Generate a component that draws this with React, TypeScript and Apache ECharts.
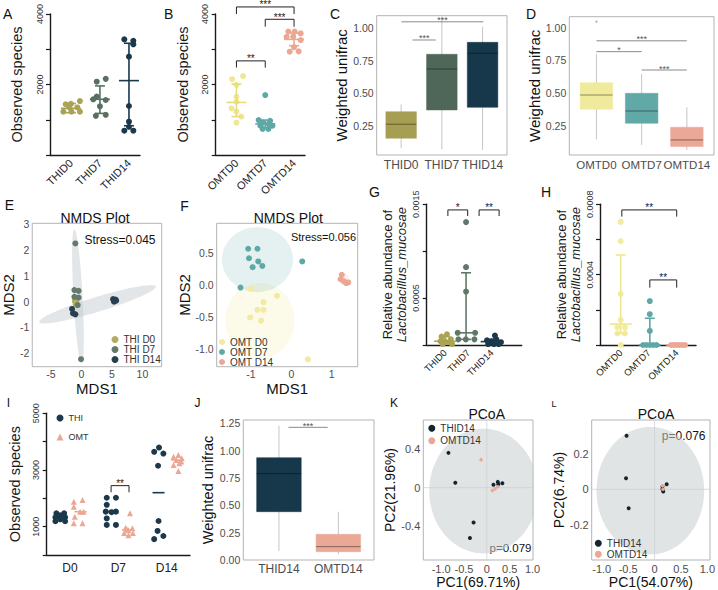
import React, { useEffect, useRef } from 'react';
import * as echarts from 'echarts';

const FONT = '"Liberation Sans", Arial, Helvetica, sans-serif';

const COL_THI0 = '#aba354';
const COL_THI7 = '#587062';
const COL_THI14 = '#1b394b';
const COL_OMT0 = '#efe795';
const COL_OMT7 = '#5ea8a6';
const COL_OMT14 = '#eba793';

// ---------- Panel A: observed species, THI
const catsA = ['THID0', 'THID7', 'THID14'];
const ptsA0 = [[-0.18, 1440], [0.0, 1450], [0.31, 1530], [-0.06, 1350], [0.22, 1350], [-0.26, 1230], [0.02, 1230], [0.31, 1230]];
const ptsA7 = [[0.89, 2080], [1.2, 2160], [0.89, 1660], [1.2, 1560], [0.77, 1580], [1.0, 1380], [0.86, 1110], [1.2, 1140]];
const ptsA14 = [[1.84, 3280], [2.15, 3240], [2.15, 3140], [2, 2790], [2, 1390], [2, 945], [2, 800], [1.84, 690], [2.15, 690]];
const statsA = [[0, 1325, 1200, 1460], [1, 1580, 1180, 1960], [2, 2110, 830, 3170]];
const yLabelsA: [number, string][] = [[2000, '2000'], [4000, '4000']];

// ---------- Panel B: observed species, OMT
const catsB = ['OMTD0', 'OMTD7', 'OMTD14'];
const ptsB0 = [[-0.15, 2150], [0.23, 2240], [0, 1990], [0, 1650], [0, 1510], [-0.17, 1320], [0, 1230], [0.17, 1090], [0, 920]];
const ptsB7 = [[1, 1700], [0.77, 990], [1.17, 970], [0.91, 920], [1.11, 880], [0.83, 830], [1.25, 830], [0.91, 740], [1.11, 740]];
const ptsB14 = [[1.8, 3500], [2.02, 3500], [2.23, 3450], [1.74, 3350], [1.97, 3360], [2.23, 3260], [2, 3060], [1.85, 2930], [2.16, 2940]];
const statsB = [[0, 1490, 1090, 2010], [1, 880, 770, 990], [2, 3280, 3100, 3460]];
const bracketsB = [
  { x1: 0, x2: 2, y: 4200, drop: 4000, label: '***' },
  { x1: 1, x2: 2, y: 3850, drop: 3640, label: '***' },
  { x1: 0, x2: 1, y: 2670, drop: 2480, label: '**' },
];

// ---------- Panel C: weighted unifrac, THI  [x, lo, q1, median, q3, hi]
const catsC = ['THID0', 'THID7', 'THID14'];
const boxC = [[1, 0.077, 0.154, 0.262, 0.358, 0.415], [2, 0.069, 0.372, 0.687, 0.80, 1.09], [3, 0.064, 0.392, 0.808, 0.892, 1.012]];
const sigC = [{ x1: 1.28, x2: 1.85, y: 0.91, label: '***' }, { x1: 1.01, x2: 3.02, y: 1.05, label: '***' }];

// ---------- Panel D: weighted unifrac, OMT
const catsD = ['OMTD0', 'OMTD7', 'OMTD14'];
const boxD = [[1, 0.148, 0.377, 0.486, 0.58, 0.80], [2, 0.105, 0.27, 0.364, 0.499, 0.647], [3, 0.066, 0.092, 0.143, 0.24, 0.392]];
const outD = [[1, 1.046]];
const sigD = [{ x1: 1, x2: 3, y: 0.90, label: '***' }, { x1: 1, x2: 2, y: 0.817, label: '*' }, { x1: 2, x2: 3, y: 0.677, label: '***' }];

// ---------- Panel E: NMDS THI
const ptsE0 = [[-0.98, -0.02], [-0.9, -0.1], [-1.05, 0.05], [-0.85, 0.02]];
const ptsE7 = [[-0.98, 2.26], [-1.14, 0.45], [-0.44, 0.42], [-1.14, 0.19], [-0.44, 0.16], [-0.6, -0.13], [-0.05, -2.23]];
const ptsE14 = [[5.2, 0.1], [5.4, 0.05], [5.6, 0.08], [5.35, 0.0], [5.7, 0.04], [-1.52, -0.28], [-1.36, -0.45], [-0.98, -0.49]];
const ellE = [[-0.55, 0.2, -0.6, 2.6, 0.75, 0], [2.65, -0.1, 9.55, 0.68, 0, 0.3]];

// ---------- Panel F: NMDS OMT
const ptsF0 = [[-1.0, -0.06], [-0.355, -0.17], [-0.69, -0.27], [-0.84, -0.39], [-0.69, -0.39], [-1.02, -0.51], [-0.75, -0.56], [0.41, -1.17]];
const ptsF7 = [[-1.07, 0.57], [-0.84, 0.57], [-1.05, 0.42], [-0.82, 0.37], [-0.96, 0.28], [-0.72, 0.3], [-1.26, -0.04], [0.27, 0.37]];
const ptsF14 = [[1.25, 0.16], [1.22, 0.09], [1.3, 0.06], [1.36, 0.03], [1.41, 0.04]];
const ellF = [[-0.78, -0.56, 0.86, 0, 0, 0.59], [-0.84, 0.4, 0.88, 0, 0, 0.51], [1.3, 0.09, 0.13, 0, 0, 0.09]];

// ---------- Panel G: L. mucosae, THI
const catsG = ['THID0', 'THID7', 'THID14'];
const ptsG0 = [[0.08, 0.000114], [-0.15, 0.000089], [0.25, 0.00006], [-0.2, 0.00004], [0.0, 0.00004], [0.2, 0.00003], [-0.1, 0.00001], [0.3, 0.00001]];
const ptsG7 = [[0.9, 0.00131], [0.9, 0.00083], [0.9, 0.00057], [0.54, 0.00013], [1.29, 0.00013], [0.57, 0.00006], [0.89, 0.00006], [1.26, 0.00006]];
const ptsG14 = [[2.14, 0.0001], [1.8, 0.00005], [2.0, 0.00004], [2.2, 0.00006], [2.4, 0.00003], [1.85, 0.00001], [2.1, 0.00001], [2.3, 0.00001]];
const statsG = [[0, 0.00004, 0.00001, 0.00009], [0.9, 0.00013, 0.00006, 0.00077], [2, 0.000036, 0.00001, 0.00006]];
const bracketsG = [
  { x1: 0.12, x2: 0.97, y: 0.00144, drop: 0.001375, label: '*' },
  { x1: 1.46, x2: 2.32, y: 0.00144, drop: 0.001375, label: '**' },
];
const yLabelsG: [number, string][] = [[0.0005, '0.0005'], [0.0015, '0.0015']];

// ---------- Panel H: L. mucosae, OMT
const catsH = ['OMTD0', 'OMTD7', 'OMTD14'];
const ptsH0 = [[0, 0.0007], [0, 0.00059], [0, 0.00029], [0, 0.000142], [-0.12, 0.0001], [0.15, 0.0001], [-0.12, 0.000066], [0.15, 0.000066], [0, 0]];
const ptsH7 = [[1.04, 0.00025], [1.04, 0.000175], [1.04, 0.00008], [0.8, 0], [0.92, 0], [1.04, 0], [1.16, 0], [1.28, 0]];
const ptsH14 = [[1.8, 0], [1.9, 0], [2.0, 0], [2.1, 0], [2.2, 0], [2.3, 0]];
const statsH = [[0, 0.000119, 0.000066, 0.000512], [1.04, 0, 0, 0.000152], [2, 0, 0, 0]];
const bracketsH = [
  { x1: 0.04, x2: 2.0, y: 0.000768, drop: 0.00073, label: '**' },
  { x1: 1.04, x2: 2.0, y: 0.00037, drop: 0.000326, label: '**' },
];
const yLabelsH: [number, string][] = [[0.0004, '0.0004'], [0.0008, '0.0008']];

// ---------- Panel I: observed species by day
const catsI = ['D0', 'D7', 'D14'];
const ptsI_THI_D0 = [[-0.28, 1470], [-0.12, 1470], [-0.2, 1400], [-0.3, 1330], [-0.1, 1330], [-0.2, 1260], [-0.3, 1190], [-0.1, 1190]];
const ptsI_OMT_D0 = [[0.08, 1880], [0.26, 1940], [0.08, 1706], [0.21, 1529], [0.28, 1529], [0.1, 1353], [0.08, 1118], [0.26, 1118]];
const ptsI_THI_D7 = [[0.76, 2020], [0.95, 2020], [0.76, 1770], [0.74, 1530], [0.86, 1510], [0.95, 1530], [0.76, 1290], [0.76, 1060], [0.95, 1060]];
const ptsI_OMT_D7 = [[1.24, 1470], [1.15, 960], [1.29, 940], [1.21, 870], [1.12, 780], [1.3, 780], [1.21, 700], [1.18, 900]];
const ptsI_THI_D14 = [[1.74, 3640], [1.84, 3790], [1.93, 3580], [1.82, 3150], [1.83, 1200], [1.81, 850], [1.93, 670], [1.74, 560]];
const ptsI_OMT_D14 = [[2.14, 3470], [2.24, 3530], [2.31, 3410], [2.2, 3350], [2.3, 3300], [2.14, 3180], [2.26, 3240], [2.24, 2960]];
const meansI = [[-0.22, 1294, 1294, 1294], [0.22, 1529, 1529, 1529], [0.81, 1529, 1529, 1529], [1.2, 882, 882, 882], [1.83, 2199, 2199, 2199], [2.22, 3350, 3350, 3350]];
const bracketsI = [{ x1: 0.85, x2: 1.22, y: 2447, drop: 2212, label: '**' }];
const yLabelsI: [number, string][] = [[1000, '1000'], [3000, '3000'], [5000, '5000']];

// ---------- Panel J: weighted unifrac D14
const catsJ = ['THID14', 'OMTD14'];
const boxJ = [[1, 0.082, 0.442, 0.79, 0.936, 1.229], [2, 0.052, 0.076, 0.122, 0.235, 0.442]];
const sigJ = [{ x1: 1.16, x2: 1.82, y: 1.214, label: '***' }];

// ---------- Panel K: PCoA
const ptsK_THI = [[-0.84, 0.36], [-0.69, 0.05], [-0.29, -0.36], [-0.37, -0.52], [0.145, 0.03], [0.24, 0.06], [0.34, 0.045], [0.25, 0.035]];
const ptsK_OMT = [[-0.125, 0.29], [0.12, -0.03], [0.18, -0.01], [0.24, 0.01]];
const ellK = [[-0.07, -0.035, 1.19, 0, 0, 0.645]];

// ---------- Panel L: PCoA
const ptsL_THI = [[-0.53, 0.30], [-0.54, 0.062], [-0.49, -0.107], [0.23, 0.028], [0.15, 0.015], [0.165, -0.013], [0.15, 0.0]];
const ptsL_OMT = [[0.15, 0.02], [0.16, 0.0]];
const ellL = [[-0.08, -0.008, 1.02, 0, 0, 0.358]];

// ================= helpers
const AX = '#1a1a1a';

function catFmt(cats: string[], base: number) {
  return (v: number) => {
    const k = Math.round(v);
    if (Math.abs(v - k) > 1e-6) return '';
    return cats[k - base] ?? '';
  };
}
function stepFmt(step: number, dec: number, zeroPlain: boolean) {
  return (v: number) => {
    const k = Math.round(v / step);
    if (Math.abs(v - k * step) > step * 1e-3) return '';
    if (zeroPlain && k === 0) return '0';
    return (k * step).toFixed(dec);
  };
}
function gpY(grid: number, min: number, max: number, interval: number, labels: [number, string][], name: string, nameGap: number, nameStyle: any) {
  return {
    type: 'value', gridIndex: grid, min, max, interval,
    axisLine: { show: true, onZero: false, lineStyle: { color: AX, width: 1.4 } },
    axisTick: { show: true, length: 4, lineStyle: { color: AX, width: 1.2 } },
    splitLine: { show: false },
    axisLabel: {
      rotate: 90, fontSize: 9, color: '#333', margin: 6,
      formatter: (v: number) => { const f = labels.find((l) => Math.abs(l[0] - v) < interval * 1e-3); return f ? f[1] : ''; },
    },
    name, nameLocation: 'middle', nameGap, nameRotate: 90, nameTextStyle: nameStyle,
  };
}
function gpX(grid: number, min: number, max: number, cats: string[], rotate: number, fontSize: number, margin: number) {
  return {
    type: 'value', gridIndex: grid, min, max, minInterval: 1, maxInterval: 1,
    axisLine: { show: true, onZero: false, lineStyle: { color: AX, width: 1.4 } },
    axisTick: { show: false },
    splitLine: { show: false },
    axisLabel: { rotate, fontSize, color: '#222', margin, formatter: catFmt(cats, 0) },
  };
}
function bxAxis(grid: number, min: number, max: number, step: number, fmt: any, fontSize: number, margin: number, name?: string, nameGap?: number, nameSize?: number, vertical?: boolean) {
  return {
    type: 'value', gridIndex: grid, min, max, minInterval: step, maxInterval: step,
    axisLine: { show: false, onZero: false },
    axisTick: { show: false },
    splitLine: { show: false },
    axisLabel: { fontSize, color: '#4d4d4d', margin, formatter: fmt },
    name: name || '', nameLocation: 'middle', nameGap: nameGap || 0, nameRotate: vertical ? 90 : 0,
    nameTextStyle: { fontSize: nameSize || 14, color: '#111' },
  };
}
function scatter(idx: number, name: string, data: number[][], color: string, size = 6, symbol = 'circle') {
  return { type: 'scatter', name, xAxisIndex: idx, yAxisIndex: idx, data, symbol, symbolSize: size, itemStyle: { color, opacity: 1 }, z: 3, silent: true };
}
function errSeries(idx: number, stats: number[][], colors: string[], meanW: number, capW: number, lw = 1.6) {
  return {
    type: 'custom', xAxisIndex: idx, yAxisIndex: idx, data: stats, z: 4, silent: true, clip: false,
    renderItem: (params: any, api: any) => {
      const x = api.value(0), m = api.value(1), lo = api.value(2), hi = api.value(3);
      const c = colors[params.dataIndex];
      const pm = api.coord([x, m]);
      const kids: any[] = [{ type: 'line', shape: { x1: pm[0] - meanW / 2, y1: pm[1], x2: pm[0] + meanW / 2, y2: pm[1] }, style: { stroke: c, lineWidth: lw } }];
      if (hi > lo) {
        const pl = api.coord([x, lo]), ph = api.coord([x, hi]);
        kids.push({ type: 'line', shape: { x1: pl[0], y1: pl[1], x2: ph[0], y2: ph[1] }, style: { stroke: c, lineWidth: lw } });
        kids.push({ type: 'line', shape: { x1: pl[0] - capW / 2, y1: pl[1], x2: pl[0] + capW / 2, y2: pl[1] }, style: { stroke: c, lineWidth: lw } });
        kids.push({ type: 'line', shape: { x1: ph[0] - capW / 2, y1: ph[1], x2: ph[0] + capW / 2, y2: ph[1] }, style: { stroke: c, lineWidth: lw } });
      }
      return { type: 'group', children: kids };
    },
  };
}
function sigSeries(idx: number, items: any[], color: string, fontSize: number, textColor: string, lw = 1) {
  return {
    type: 'custom', xAxisIndex: idx, yAxisIndex: idx, data: items.map((b) => [b.x1, b.y]), z: 5, silent: true, clip: false,
    renderItem: (params: any, api: any) => {
      const b = items[params.dataIndex];
      const p1 = api.coord([b.x1, b.y]), p2 = api.coord([b.x2, b.y]);
      const pts: number[][] = [p1, p2];
      if (b.drop !== undefined) { pts.unshift(api.coord([b.x1, b.drop])); pts.push(api.coord([b.x2, b.drop])); }
      return {
        type: 'group', children: [
          { type: 'polyline', shape: { points: pts }, style: { stroke: color, lineWidth: lw, fill: 'none' } },
          { type: 'text', x: (p1[0] + p2[0]) / 2, y: p1[1] + 3, style: { text: b.label, fill: textColor, fontSize, fontFamily: FONT, textAlign: 'center', textVerticalAlign: 'bottom' } },
        ],
      };
    },
  };
}
function boxSeries(idx: number, boxes: number[][], colors: string[], halfW: number) {
  return {
    type: 'custom', xAxisIndex: idx, yAxisIndex: idx, data: boxes, z: 2, silent: true, clip: false,
    renderItem: (params: any, api: any) => {
      const x = api.value(0);
      const lo = api.coord([x, api.value(1)]), q1 = api.coord([x, api.value(2)]), md = api.coord([x, api.value(3)]);
      const q3 = api.coord([x, api.value(4)]), hi = api.coord([x, api.value(5)]);
      const l = api.coord([x - halfW, api.value(3)])[0], r = api.coord([x + halfW, api.value(3)])[0];
      const c = colors[params.dataIndex];
      return {
        type: 'group', children: [
          { type: 'line', shape: { x1: lo[0], y1: lo[1], x2: hi[0], y2: hi[1] }, style: { stroke: '#c6c6c6', lineWidth: 1 } },
          { type: 'rect', shape: { x: l, y: q3[1], width: r - l, height: q1[1] - q3[1] }, style: { fill: c, stroke: c, lineWidth: 0.5 } },
          { type: 'line', shape: { x1: l, y1: md[1], x2: r, y2: md[1] }, style: { stroke: 'rgba(0,0,0,0.42)', lineWidth: 1 } },
        ],
      };
    },
  };
}
function ellSeries(idx: number, ells: number[][], colors: string[]) {
  return {
    type: 'custom', xAxisIndex: idx, yAxisIndex: idx, data: ells, z: 1, silent: true, clip: true,
    renderItem: (params: any, api: any) => {
      const v = [0, 1, 2, 3, 4, 5].map((i) => api.value(i));
      const pts: number[][] = [];
      for (let k = 0; k < 96; k++) {
        const t = (k / 96) * Math.PI * 2;
        pts.push(api.coord([v[0] + v[2] * Math.cos(t) + v[4] * Math.sin(t), v[1] + v[3] * Math.cos(t) + v[5] * Math.sin(t)]));
      }
      return { type: 'polygon', shape: { points: pts }, style: { fill: colors[params.dataIndex] } };
    },
  };
}
function zeroLines(idx: number) {
  return {
    type: 'custom', xAxisIndex: idx, yAxisIndex: idx, data: [[0, 0]], z: 0, silent: true,
    renderItem: (params: any, api: any) => {
      const cs = params.coordSys;
      const p = api.coord([0, 0]);
      return {
        type: 'group', children: [
          { type: 'line', shape: { x1: p[0], y1: cs.y, x2: p[0], y2: cs.y + cs.height }, style: { stroke: '#d4d4d4', lineWidth: 0.8 } },
          { type: 'line', shape: { x1: cs.x, y1: p[1], x2: cs.x + cs.width, y2: p[1] }, style: { stroke: '#d4d4d4', lineWidth: 0.8 } },
        ],
      };
    },
  };
}
function txt(text: string, x: number, y: number, fontSize: number, align = 'center', color = '#111') {
  return { type: 'text', x, y, silent: true, style: { text, fill: color, fontSize, fontFamily: FONT, textAlign: align, textVerticalAlign: 'middle' } };
}

function buildOption(): any {
  const boxed = { show: true, borderColor: '#b3b3b3', borderWidth: 1 };
  const grid = [
    { left: 50, top: 14, width: 90, height: 141 },
    { left: 215.7, top: 14, width: 89.3, height: 141 },
    { left: 376.7, top: 15.7, width: 130.3, height: 139.3, ...boxed },
    { left: 569.3, top: 16.7, width: 144.7, height: 138.3, ...boxed },
    { left: 31.7, top: 223.3, width: 130, height: 143.4, ...boxed },
    { left: 216.7, top: 223.3, width: 141, height: 143.4, ...boxed },
    { left: 426.7, top: 204.3, width: 95, height: 140.7 },
    { left: 600, top: 204.3, width: 96, height: 140.7 },
    { left: 46.7, top: 413.3, width: 143.3, height: 141.7 },
    { left: 243.3, top: 420, width: 130.7, height: 140, ...boxed },
    { left: 423.3, top: 420, width: 109.7, height: 140, ...boxed },
    { left: 591.7, top: 420, width: 122.3, height: 140, ...boxed },
  ];
  const nameObs = { fontSize: 14.5, color: '#1a1a1a' };
  const nameLacto = { fontSize: 13, color: '#1a1a1a', lineHeight: 14, rich: { i: { fontStyle: 'italic', fontSize: 13, lineHeight: 14, color: '#1a1a1a' } } };
  const lactoName = 'Relative abundance of\n{i|Lactobacillus_mucosae}';

  const xAxis = [
    gpX(0, -0.72, 2.38, catsA, 45, 11, 6),
    gpX(1, -0.72, 2.38, catsB, 45, 11, 6),
    bxAxis(2, 0.4, 3.6, 1, catFmt(catsC, 1), 12, 4),
    bxAxis(3, 0.4, 3.6, 1, catFmt(catsD, 1), 11.5, 4),
    bxAxis(4, -8.04, 13.16, 5, stepFmt(5, 0, true), 10.5, 2, 'MDS1', 13.5, 15),
    bxAxis(5, -1.85, 1.645, 1, stepFmt(1, 0, true), 10.5, 2, 'MDS1', 13.5, 15),
    gpX(6, -0.79, 3.29, catsG, 45, 9.5, 6),
    gpX(7, -0.74, 2.69, catsH, 45, 9.5, 6),
    gpX(8, -0.48, 2.48, catsI, 0, 12, 7),
    bxAxis(9, 0.4, 2.6, 1, catFmt(catsJ, 1), 12, 3),
    bxAxis(10, -1.39, 1.01, 0.5, stepFmt(0.5, 1, true), 11, 3, 'PC1(69.71%)', 14, 14),
    bxAxis(11, -1.19, 1.05, 0.5, stepFmt(0.5, 1, true), 11, 3, 'PC1(54.07%)', 14, 14),
  ];
  const yAxis = [
    gpY(0, 0, 4000, 1000, yLabelsA, 'Observed species', 26, nameObs),
    gpY(1, 0, 4000, 1000, yLabelsA, 'Observed species', 25, nameObs),
    bxAxis(2, 0.025, 1.097, 0.25, stepFmt(0.25, 2, false), 10.5, 3, 'Weighted unifrac', 23, 15, true),
    bxAxis(3, 0.028, 1.084, 0.25, stepFmt(0.25, 2, false), 10.5, 3, 'Weighted unifrac', 16, 15, true),
    bxAxis(4, -2.52, 3.04, 1, stepFmt(1, 0, true), 10.5, 3, 'MDS2', 12, 15, true),
    bxAxis(5, -1.285, 0.97, 0.5, stepFmt(0.5, 1, false), 10.5, 3, 'MDS2', 22, 15, true),
    gpY(6, 0, 0.0015, 0.0005, yLabelsG, lactoName, 18, nameLacto),
    gpY(7, 0, 0.0008, 0.0002, yLabelsH, lactoName, 18, nameLacto),
    gpY(8, 0, 5000, 1000, yLabelsI, 'Observed species', 24, nameObs),
    bxAxis(9, 0, 1.281, 0.25, stepFmt(0.25, 2, false), 10.5, 3, 'Weighted unifrac', 25, 14.5, true),
    bxAxis(10, -0.748, 0.70, 0.4, stepFmt(0.4, 1, true), 11, 3, 'PC2(21.96%)', 22, 14, true),
    bxAxis(11, -0.397, 0.389, 0.2, stepFmt(0.2, 1, true), 11, 3, 'PC2(6.74%)', 22, 14, true),
  ];

  const series: any[] = [
    // A
    scatter(0, 'a0', ptsA0, COL_THI0), scatter(0, 'a7', ptsA7, COL_THI7), scatter(0, 'a14', ptsA14, COL_THI14),
    errSeries(0, statsA, [COL_THI0, COL_THI7, COL_THI14], 20, 10),
    // B
    scatter(1, 'b0', ptsB0, COL_OMT0), scatter(1, 'b7', ptsB7, COL_OMT7), scatter(1, 'b14', ptsB14, COL_OMT14),
    errSeries(1, statsB, ['#e6dc7c', COL_OMT7, COL_OMT14], 20, 10),
    sigSeries(1, bracketsB, '#222', 10, '#222'),
    // C
    boxSeries(2, boxC, ['#a69e52', '#4f6758', '#17384a'], 0.375),
    sigSeries(2, sigC, '#8a8a8a', 9, '#555'),
    // D
    boxSeries(3, boxD, ['#f0eb9c', '#61a9a7', '#eba898'], 0.36),
    scatter(3, 'dout', outD, '#aaaaaa', 2),
    sigSeries(3, sigD, '#8a8a8a', 9, '#555'),
    // E
    ellSeries(4, ellE, ['rgba(190,200,204,0.45)', 'rgba(190,200,204,0.45)']),
    scatter(4, 'THI D0', ptsE0, '#b3ab5f'), scatter(4, 'THI D7', ptsE7, '#637a6d'), scatter(4, 'THI D14', ptsE14, '#283f4f'),
    // F
    ellSeries(5, ellF, ['rgba(240,232,150,0.22)', 'rgba(94,168,166,0.16)', 'rgba(235,167,147,0.2)']),
    scatter(5, 'OMT D0', ptsF0, '#f1ea9f'), scatter(5, 'OMT D7', ptsF7, COL_OMT7), scatter(5, 'OMT D14', ptsF14, COL_OMT14),
    // G
    scatter(6, 'g0', ptsG0, COL_THI0), scatter(6, 'g7', ptsG7, '#5f7868'), scatter(6, 'g14', ptsG14, COL_THI14),
    errSeries(6, statsG, [COL_THI0, '#5f7868', COL_THI14], 22, 10),
    sigSeries(6, bracketsG, '#222', 10, '#222'),
    // H
    scatter(7, 'h0', ptsH0, '#f2ec9c'), scatter(7, 'h7', ptsH7, COL_OMT7), scatter(7, 'h14', ptsH14, COL_OMT14),
    errSeries(7, statsH, ['#efe78f', COL_OMT7, COL_OMT14], 22, 10),
    sigSeries(7, bracketsH, '#222', 10, '#222'),
    // I
    scatter(8, 'THI', [...ptsI_THI_D0, ...ptsI_THI_D7, ...ptsI_THI_D14], COL_THI14, 6, 'circle'),
    scatter(8, 'OMT', [...ptsI_OMT_D0, ...ptsI_OMT_D7, ...ptsI_OMT_D14], COL_OMT14, 6, 'triangle'),
    errSeries(8, meansI, [COL_THI14, COL_OMT14, COL_THI14, COL_OMT14, COL_THI14, COL_OMT14], 12, 0),
    sigSeries(8, bracketsI, '#222', 10, '#222'),
    // J
    boxSeries(9, boxJ, ['#17384a', '#eaa896'], 0.375),
    sigSeries(9, sigJ, '#8a8a8a', 9, '#555'),
    // K
    zeroLines(10),
    ellSeries(10, ellK, ['rgba(200,206,206,0.55)']),
    scatter(10, 'THID14', ptsK_THI, '#14252f', 4), scatter(10, 'OMTD14', ptsK_OMT, COL_OMT14, 3.5),
    // L
    zeroLines(11),
    ellSeries(11, ellL, ['rgba(200,206,206,0.55)']),
    scatter(11, 'THID14', ptsL_THI, '#14252f', 4), scatter(11, 'OMTD14', ptsL_OMT, COL_OMT14, 3.5),
  ];

  const lg = (left: number, top: number, data: any[], gap: number, fs: number, size: number) => ({
    orient: 'vertical', left, top, itemWidth: size, itemHeight: size, itemGap: gap, icon: 'circle', padding: 0,
    selectedMode: false, textStyle: { fontSize: fs, color: '#333', fontFamily: FONT }, data,
  });
  const legend = [
    lg(111.5, 334.5, ['THI D0', 'THI D7', 'THI D14'], 0, 10, 7),
    lg(219, 337, ['OMT D0', 'OMT D7', 'OMT D14'], 0, 10, 6),
    lg(56.5, 413.5, [{ name: 'THI', icon: 'circle' }, { name: 'OMT', icon: 'triangle' }], 10, 9, 7),
    lg(428.3, 423.3, ['THID14', 'OMTD14'], 2.4, 10, 7),
    lg(594.8, 538.3, ['THID14', 'OMTD14'], 1, 10, 7),
  ];

  const graphic = {
    elements: [
      txt('A', 7.7, 13.5, 14), txt('B', 168.7, 13.8, 14), txt('C', 335, 13.8, 14), txt('D', 531, 13.8, 14),
      txt('E', 9.5, 205, 14), txt('F', 184.5, 205.8, 14), txt('G', 374.5, 192.3, 14), txt('H', 546, 192, 14),
      txt('I', 8.3, 402.5, 12), txt('J', 197.5, 402.5, 12), txt('K', 394, 402.5, 12), txt('L', 554, 404, 9),
      txt('NMDS Plot', 95, 217.7, 14), txt('NMDS Plot', 288.3, 217.7, 14),
      txt('PCoA', 486.7, 414.3, 14), txt('PCoA', 656, 414.3, 14),
      txt('Stress=0.045', 155.5, 240, 12, 'right'), txt('Stress=0.056', 356, 237.3, 11, 'right'),
      txt('p=0.079', 531.5, 548.3, 11.5, 'right'), txt('p=0.076', 705.5, 435.7, 12, 'right'),
    ],
  };

  return {
    animation: false,
    backgroundColor: '#ffffff',
    textStyle: { fontFamily: FONT },
    grid, xAxis, yAxis, series, legend, graphic,
  };
}

export default function App() {
  const ref = useRef<HTMLDivElement>(null);
  useEffect(() => {
    if (!ref.current) return;
    const chart = echarts.init(ref.current, undefined, { renderer: 'svg' });
    chart.setOption(buildOption());
    return () => chart.dispose();
  }, []);
  return <div ref={ref} style={{ position: 'fixed', left: 0, top: 0, width: 718, height: 590, background: '#fff' }} />;
}
